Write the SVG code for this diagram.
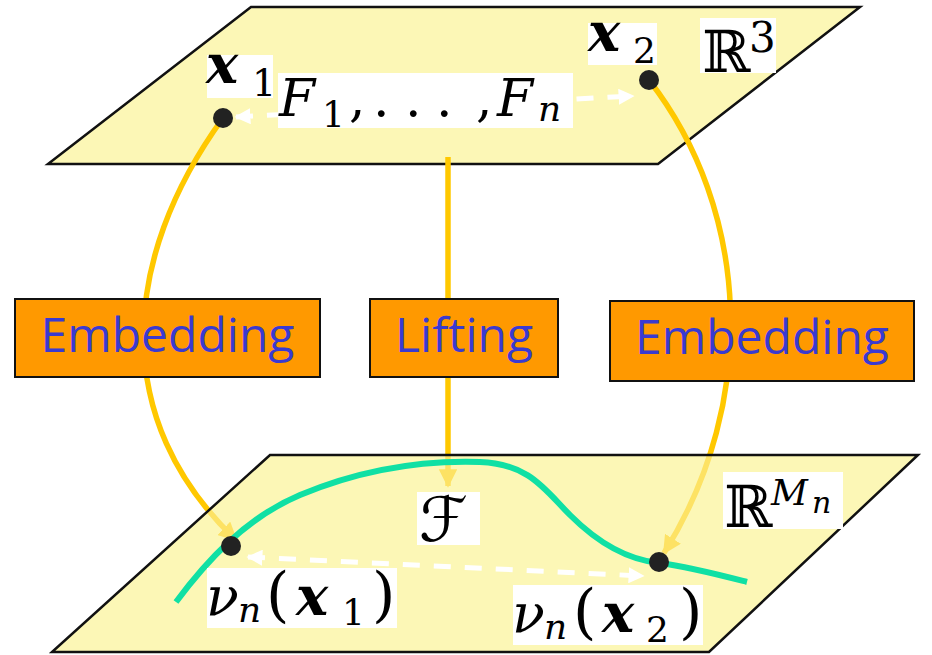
<svg xmlns="http://www.w3.org/2000/svg" width="932" height="655" viewBox="0 0 932 655">
<style>
.plane{fill:#fcf7b6;stroke:none}
.edge{fill:none;stroke:#111;stroke-width:2.5}
.conn{fill:none;stroke:#ffc800;stroke-width:5.5}
.dash{fill:none;stroke:#fff;stroke-width:5;stroke-dasharray:17 14}
.curve{fill:none;stroke:#10e0a4;stroke-width:6;stroke-linecap:butt}
.dot{fill:#222}
.box{fill:#ff9900;stroke:#111;stroke-width:2}
.btxt{font-family:"Open Sans","DejaVu Sans",sans-serif;font-size:48px;fill:#3a3ad0;text-anchor:middle}
.lbg{fill:#fff}
.m{font-family:"DejaVu Serif","Liberation Serif",serif;fill:#000}
.it{font-style:italic}
.bx{font-style:italic;font-weight:bold}
</style>
<defs>
<marker id="ya" viewBox="0 0 10 10" refX="9" refY="5" markerWidth="3.4" markerHeight="3.4" orient="auto" markerUnits="strokeWidth">
<path d="M0,0 L10,5 L0,10 Z" fill="#ffc800"/>
</marker>
<marker id="wa" viewBox="0 0 10 10" refX="9" refY="5" markerWidth="3.2" markerHeight="3.2" orient="auto-start-reverse" markerUnits="strokeWidth">
<path d="M0,0 L10,5 L0,10 Z" fill="#fff"/>
</marker>
</defs>

<g id="plane-top">
<polygon class="plane" points="251,7 860,7 658,164 48,164"/>
<polygon class="edge" points="251,7 860,7 658,164 48,164"/>
</g>

<g id="plane-bottom">
<polygon class="plane" points="270,455 918,455 709,652 52,652"/>
</g>

<g id="connectors">
<path class="conn" d="M223,118 C120,260 110,420 236,540" marker-end="url(#ya)"/>
<path class="conn" d="M448,157 L448,486" marker-end="url(#ya)"/>
<path class="conn" d="M649,80 C750,210 760,400 664,553" marker-end="url(#ya)"/>
</g>

<g id="plane-bottom-overlay">
<polygon class="plane" opacity="0.55" points="270,455 918,455 709,652 52,652"/>
<polygon class="edge" points="270,455 918,455 709,652 52,652"/>
</g>

<g id="curve-F">
<path class="curve" d="M176,602 C205,563 245,518 300,495 C360,470 420,460 480,462 C530,464 545,490 570,515 C600,545 630,560 659,563 C690,567 720,575 747,582"/>
</g>

<g id="dashed-arrows">
<path class="dash" d="M236,117 L633,96" marker-start="url(#wa)" marker-end="url(#wa)"/>
<path class="dash" d="M248,557 L643,576" marker-start="url(#wa)" marker-end="url(#wa)"/>
</g>

<g id="point-x1"><circle class="dot" cx="223" cy="118" r="10"/></g>
<g id="point-x2"><circle class="dot" cx="649" cy="80" r="10"/></g>
<g id="point-nu-x1"><circle class="dot" cx="231" cy="546" r="10"/></g>
<g id="point-nu-x2"><circle class="dot" cx="659" cy="562" r="10"/></g>

<g id="embedding-left">
<rect class="box" x="15" y="299" width="305" height="78"/>
<text class="btxt" x="167.5" y="352">Embedding</text>
</g>
<g id="lifting">
<rect class="box" x="370" y="299" width="188" height="78"/>
<text class="btxt" x="464" y="352">Lifting</text>
</g>
<g id="embedding-right">
<rect class="box" x="610" y="301" width="304" height="80"/>
<text class="btxt" x="762" y="354">Embedding</text>
</g>

<g id="label-x1">
<rect class="lbg" x="207" y="55" width="66" height="43"/>
<text class="m"><tspan class="bx" x="206" y="83" font-size="54">x</tspan><tspan x="252" y="96" font-size="38">1</tspan></text>
</g>
<g id="label-F">
<rect class="lbg" x="278" y="73" width="295" height="55"/>
<text class="m" font-size="52"><tspan class="it" x="279" y="116">F</tspan><tspan x="322" y="127" font-size="36">1</tspan><tspan x="349" y="116">,</tspan><tspan x="373" y="116">.</tspan><tspan x="405" y="116">.</tspan><tspan x="436" y="116">.</tspan><tspan x="476" y="116">,</tspan><tspan class="it" x="497" y="116">F</tspan><tspan class="it" x="538" y="121" font-size="36">n</tspan></text>
</g>
<g id="label-x2">
<rect class="lbg" x="588" y="23" width="69" height="42"/>
<text class="m"><tspan class="bx" x="588" y="51" font-size="54">x</tspan><tspan x="633" y="63" font-size="36">2</tspan></text>
</g>
<g id="label-R3">
<rect class="lbg" x="700" y="18" width="76" height="55"/>
<text class="m"><tspan x="702" y="72" font-size="58">ℝ</tspan><tspan x="749" y="52" font-size="42">3</tspan></text>
</g>
<g id="label-calF">
<rect class="lbg" x="417" y="492" width="63" height="53"/>
<text x="419" y="541" font-family="DejaVu Sans, sans-serif" font-size="62" fill="#000">ℱ</text>
</g>
<g id="label-RMn">
<rect class="lbg" x="723" y="472" width="120" height="57"/>
<text class="m"><tspan x="724" y="527" font-size="58">ℝ</tspan><tspan class="it" x="771" y="505" font-size="36">M</tspan><tspan class="it" x="812" y="513" font-size="30">n</tspan></text>
</g>
<g id="label-nu-x1">
<rect class="lbg" x="207" y="568" width="190" height="60"/>
<text class="m" font-size="60"><tspan class="it" x="206" y="615" font-size="54">ν</tspan><tspan class="it" x="238" y="622" font-size="36">n</tspan><tspan x="266" y="615">(</tspan><tspan class="bx" x="296" y="615" font-size="54">x</tspan><tspan x="342" y="625" font-size="36">1</tspan><tspan x="372" y="615">)</tspan></text>
</g>
<g id="label-nu-x2">
<rect class="lbg" x="513" y="585" width="190" height="60"/>
<text class="m" font-size="60"><tspan class="it" x="512" y="632" font-size="54">ν</tspan><tspan class="it" x="544" y="639" font-size="36">n</tspan><tspan x="573" y="632">(</tspan><tspan class="bx" x="602" y="632" font-size="54">x</tspan><tspan x="646" y="642" font-size="36">2</tspan><tspan x="679" y="632">)</tspan></text>
</g>
</svg>
